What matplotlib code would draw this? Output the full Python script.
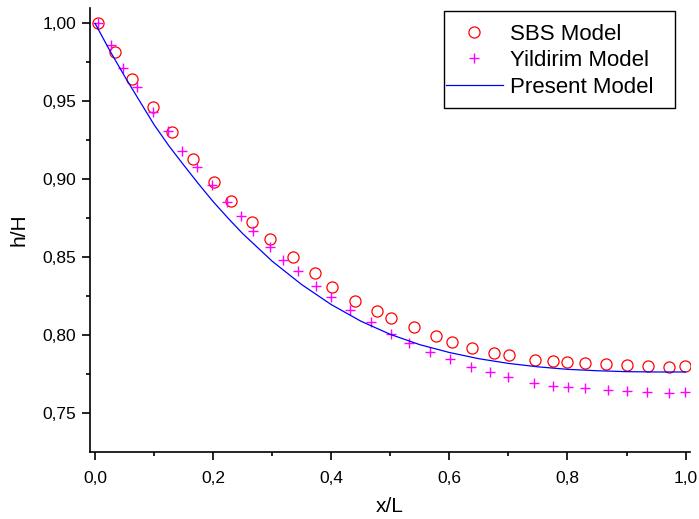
import matplotlib
matplotlib.use("Agg")
import matplotlib.pyplot as plt
from matplotlib.patches import Rectangle
from matplotlib.ticker import MultipleLocator, FuncFormatter

# SBS Model (circles)
sbs_x = [0.005, 0.033, 0.063, 0.099, 0.130, 0.166, 0.201, 0.231, 0.266, 0.297,
         0.335, 0.372, 0.402, 0.440, 0.477, 0.501, 0.540, 0.577, 0.604, 0.638,
         0.676, 0.701, 0.745, 0.775, 0.800, 0.830, 0.865, 0.901, 0.936, 0.972, 0.999]
sbs_y = [1.000, 0.9814, 0.9645, 0.9462, 0.9305, 0.9132, 0.8981, 0.8863, 0.8724, 0.8615,
         0.8500, 0.8399, 0.8312, 0.8222, 0.8154, 0.8109, 0.8055, 0.7996, 0.7958, 0.7920,
         0.7887, 0.7872, 0.7840, 0.7837, 0.7831, 0.7822, 0.7814, 0.7808, 0.7801, 0.7799, 0.7801]

# Yildirim Model (crosses)
yil_x = [0.005, 0.027, 0.047, 0.071, 0.098, 0.124, 0.148, 0.172, 0.198, 0.223,
         0.247, 0.267, 0.297, 0.319, 0.343, 0.374, 0.400, 0.432, 0.467, 0.501,
         0.532, 0.567, 0.601, 0.636, 0.668, 0.700, 0.743, 0.775, 0.801, 0.830,
         0.869, 0.900, 0.934, 0.972, 0.999]
yil_y = [1.000, 0.9861, 0.9715, 0.9590, 0.9431, 0.9312, 0.9183, 0.9077, 0.8963, 0.8854,
         0.8762, 0.8669, 0.8568, 0.8483, 0.8414, 0.8318, 0.8247, 0.8162, 0.8083, 0.8010,
         0.7951, 0.7893, 0.7846, 0.7795, 0.7765, 0.7733, 0.7696, 0.7677, 0.7671, 0.7660,
         0.7649, 0.7645, 0.7637, 0.7630, 0.7635]

# Present Model (line)
pre_x = [0.0, 0.025, 0.05, 0.075, 0.10, 0.125, 0.15, 0.175, 0.20, 0.225, 0.25, 0.30, 0.35, 0.40,
         0.45, 0.50, 0.55, 0.60, 0.65, 0.70, 0.75, 0.80, 0.85, 0.90, 0.95, 1.0]
pre_y = [1.000, 0.9825, 0.9661, 0.9505, 0.9350, 0.9215, 0.9092, 0.8972, 0.8857, 0.8752, 0.8652,
         0.8475, 0.8325, 0.8197, 0.8091, 0.8006, 0.7940, 0.7890, 0.7850, 0.7820, 0.7798,
         0.7782, 0.7773, 0.7767, 0.7765, 0.7765]

plt.rcParams['font.family'] = ['Liberation Sans', 'DejaVu Sans']

W, H = 699, 519
fig = plt.figure(figsize=(W/100, H/100), dpi=100)
ax = fig.add_axes([90/W, 1-451.7/H, 600/W, (451.7-8)/H])

ax.plot(sbs_x, sbs_y, linestyle='none', marker='o', markersize=8, markerfacecolor='none',
        markeredgecolor='#ff0000', markeredgewidth=0.9, label='SBS Model')
ax.plot(yil_x, yil_y, linestyle='none', marker='+', markersize=7, color='#ff00ff',
        markeredgewidth=1.0, label='Yildirim Model')
ax.plot(pre_x, pre_y, color='#0000ff', linewidth=0.9, label='Present Model')

ax.set_xlim(-0.0085, 1.0075)
ax.set_ylim(0.7254, 1.0098)

for s in ['top', 'right']:
    ax.spines[s].set_visible(False)
for s in ['left', 'bottom']:
    ax.spines[s].set_linewidth(1.2)

ax.xaxis.set_major_locator(MultipleLocator(0.2))
ax.xaxis.set_minor_locator(MultipleLocator(0.1))
ax.yaxis.set_major_locator(MultipleLocator(0.05))
ax.yaxis.set_minor_locator(MultipleLocator(0.025))
ax.xaxis.set_major_formatter(FuncFormatter(lambda v, p: f"{v:.1f}".replace('.', ',')))
ax.yaxis.set_major_formatter(FuncFormatter(lambda v, p: f"{v:.2f}".replace('.', ',')))
ax.tick_params(which='major', direction='out', length=6, width=1.2, labelsize=12.5, pad=4)
ax.tick_params(axis='x', which='major', pad=8)
ax.tick_params(which='minor', direction='out', length=3, width=1.2)

ax.set_xlabel('x/L', fontsize=15, labelpad=8)
ax.set_ylabel('h/H', fontsize=15, labelpad=10)

leg = ax.legend(loc='upper left', bbox_to_anchor=(446/W, 1-23.5/H), bbox_transform=fig.transFigure,
                borderaxespad=0, fontsize=16, frameon=False,
                handlelength=2.55, handletextpad=0.35, labelspacing=0.25, borderpad=0)

frame = Rectangle((444/W, 1-108/H), (675-444)/W, (108-11)/H, transform=fig.transFigure,
                  fill=False, edgecolor='black', linewidth=1.0, zorder=5)
fig.patches.append(frame)

fig.savefig('out.png', dpi=100)
